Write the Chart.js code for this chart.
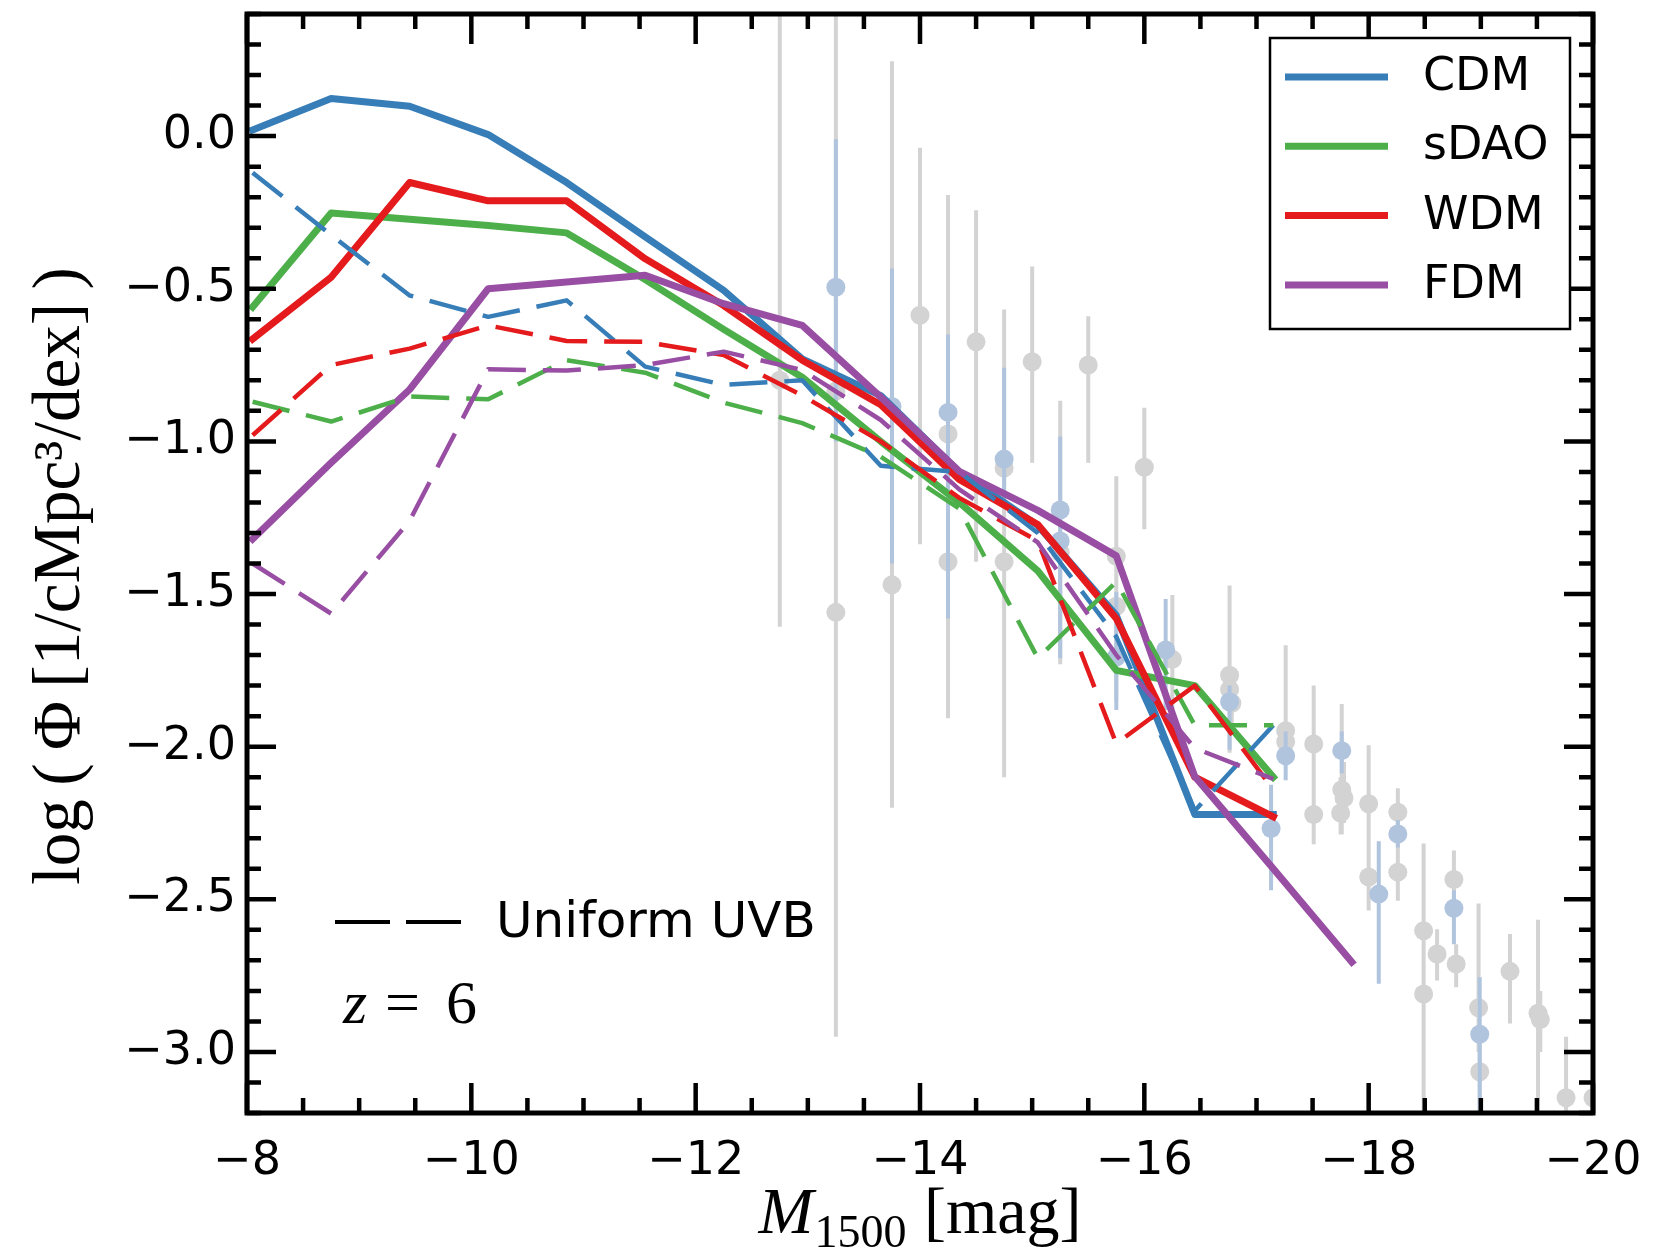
<!DOCTYPE html>
<html>
<head>
<meta charset="utf-8">
<script src="https://cdn.jsdelivr.net/npm/chart.js@4.4.0/dist/chart.umd.min.js"></script>
<style>
  html, body { margin: 0; padding: 0; background: #fff; }
  #wrap { width: 1653px; height: 1254px; }
</style>
</head>
<body>
<div id="wrap"><canvas id="lfChart" width="1653" height="1254"></canvas></div>
<script>
// magnitude bins of the model luminosity functions
const magBins = [-8.05, -8.75, -9.45, -10.15, -10.85, -11.55, -12.25, -12.95, -13.65, -14.35, -15.05, -15.75, -16.45, -17.15, -17.85];

// fiducial runs (solid)
const cdmFid  = [0.02, 0.123, 0.098, 0.005, -0.152, -0.33, -0.505, -0.73, -0.85, -1.10, -1.275, -1.57, -2.222, -2.222];
const sdaoFid = [-0.56, -0.252, -0.272, -0.293, -0.317, -0.47, -0.633, -0.79, -1.0, -1.2, -1.424, -1.75, -1.80, -2.10];
const wdmFid  = [-0.665, -0.462, -0.152, -0.212, -0.212, -0.402, -0.555, -0.734, -0.88, -1.125, -1.272, -1.58, -2.10, -2.23];
const fdmFid  = [-1.32, -1.07, -0.83, -0.50, -0.478, -0.456, -0.549, -0.62, -0.855, -1.098, -1.226, -1.375, -2.098, -2.40, -2.706];

// uniform UVB runs (dashed)
const cdmUvb  = [-0.12, -0.324, -0.522, -0.592, -0.538, -0.755, -0.815, -0.80, -1.08, -1.10, -1.30, -1.64, -2.21, -1.93];
const sdaoUvb = [-0.87, -0.935, -0.853, -0.862, -0.734, -0.775, -0.873, -0.94, -1.05, -1.22, -1.71, -1.46, -1.93, -1.93];
const wdmUvb  = [-0.98, -0.75, -0.696, -0.62, -0.671, -0.674, -0.717, -0.85, -1.0, -1.185, -1.326, -1.99, -1.80, -2.14];
const fdmUvb  = [-1.40, -1.564, -1.26, -0.764, -0.768, -0.75, -0.706, -0.766, -0.93, -1.157, -1.331, -1.70, -2.005, -2.106];

const modelNames  = ['CDM', 'sDAO', 'WDM', 'FDM'];
const modelColors = ['#377eb8', '#4daf4a', '#e41a1c', '#984ea3'];

// observational points, grey
const greyMag = [-12.75, -13.25, -13.25, -13.75, -14.0, -14.25, -14.25, -14.5, -14.75, -14.75, -15.0, -15.25, -15.5, -15.75, -15.75, -16.0, -16.25,
                 -16.76, -16.76, -16.78, -17.26, -17.26, -17.51, -17.51, -17.76, -17.78, -17.75, -18.0, -18.0, -18.26, -18.26,
                 -18.49, -18.49, -18.61, -18.76, -18.78, -18.98, -18.99, -19.26, -19.51, -19.53, -19.76, -20.0];
const greyVal = [-0.80, -0.835, -1.56, -1.47, -0.587, -0.976, -1.394, -0.674, -1.087, -1.394, -0.739, -1.364, -0.75, -1.376, -1.54, -1.085, -1.714,
                 -1.766, -1.813, -1.858, -1.948, -1.984, -1.991, -2.222, -2.141, -2.168, -2.217, -2.187, -2.427, -2.215, -2.411,
                 -2.603, -2.81, -2.679, -2.435, -2.712, -2.855, -3.065, -2.736, -2.873, -2.894, -3.15, -3.15];
const greyLo  = [-1.607, -1.0, -2.95, -2.2, -1.337, -1.45, -1.907, -1.394, -1.6, -2.10, -1.07, -1.73, -1.07, -1.85, -1.85, -1.288, -1.89,
                 -2.02, -1.95, -1.95, -2.0, -2.03, -2.32, -2.32, -2.288, -2.25, -2.288, -2.537, -2.537, -2.3, -2.505,
                 -2.68, -3.4, -2.766, -2.52, -2.788, -3.0, -3.4, -2.907, -3.4, -3.0, -3.4, -3.4];
const greyHi  = [0.6, -0.65, 0.6, 0.245, -0.038, -0.193, -0.95, -0.243, -0.568, -1.0, -0.427, -0.867, -0.59, -1.114, -1.18, -0.89, -1.503,
                 -1.472, -1.65, -1.75, -1.668, -1.90, -1.80, -2.1, -1.86, -2.05, -2.1, -1.995, -2.3, -2.136, -2.3,
                 -2.5, -2.317, -2.598, -2.34, -2.647, -2.514, -2.95, -2.614, -2.567, -2.8, -2.95, -2.95];

// observational points, light blue
const blueMag = [-13.25, -13.75, -14.25, -14.75, -15.25, -15.25, -15.75, -16.19, -16.76, -17.13, -17.26, -17.76, -18.09, -18.26, -18.76, -18.99];
const blueVal = [-0.495, -0.886, -0.905, -1.058, -1.225, -1.326, -1.706, -1.683, -1.853, -2.268, -2.03, -2.013, -2.483, -2.286, -2.529, -2.942];
const blueLo  = [-1.0, -1.40, -1.58, -1.2, -1.71, -1.5, -1.88, -1.88, -2.01, -2.47, -2.11, -2.087, -2.777, -2.33, -2.647, -3.4];
const blueHi  = [-0.01, -0.434, -0.65, -0.759, -0.984, -1.15, -1.494, -1.516, -1.80, -2.125, -1.95, -1.95, -2.31, -2.24, -2.47, -2.755];

// tick labels
const xTickValues = [-8, -10, -12, -14, -16, -18, -20];
const yTickValues = [0.0, -0.5, -1.0, -1.5, -2.0, -2.5, -3.0];

function curve(ys) {
  return ys.map((y, i) => ({x: magBins[i], y: y}));
}
function dots(mags, vals) {
  return mags.map((m, i) => ({x: m, y: vals[i]}));
}
function errorSegments(mags, lo, hi) {
  const out = [];
  mags.forEach((m, i) => {
    out.push({x: m, y: lo[i]}, {x: m, y: hi[i]}, {x: m, y: null});
  });
  return out;
}
function minus(s) {
  return s.replace('-', '\u2212');
}
function noPad(s) {
  s.paddingTop = 0; s.paddingBottom = 0; s.paddingLeft = 0; s.paddingRight = 0;
}

const solidSets = [cdmFid, sdaoFid, wdmFid, fdmFid];
const dashSets  = [cdmUvb, sdaoUvb, wdmUvb, fdmUvb];

const datasets = [
  { type: 'line', data: errorSegments(greyMag, greyLo, greyHi), borderColor: '#d3d3d3', borderWidth: 4,
    pointRadius: 0, spanGaps: false, order: 40, clip: 0 },
  { type: 'scatter', data: dots(greyMag, greyVal), backgroundColor: '#d3d3d3', borderWidth: 0,
    pointRadius: 9.5, order: 39, clip: 0 },
  { type: 'line', data: errorSegments(blueMag, blueLo, blueHi), borderColor: '#b0c4de', borderWidth: 4,
    pointRadius: 0, spanGaps: false, order: 38, clip: 0 },
  { type: 'scatter', data: dots(blueMag, blueVal), backgroundColor: '#b0c4de', borderWidth: 0,
    pointRadius: 9.5, order: 37, clip: 0 }
];

solidSets.forEach((ys, i) => {
  datasets.push({
    type: 'line', label: modelNames[i], data: curve(ys),
    borderColor: modelColors[i], borderWidth: 7, pointRadius: 0,
    borderJoinStyle: 'round', borderCapStyle: 'square', tension: 0,
    order: 33 - i, clip: 0
  });
});
dashSets.forEach((ys, i) => {
  datasets.push({
    type: 'line', label: modelNames[i] + ' uniform UVB', data: curve(ys),
    borderColor: modelColors[i], borderWidth: 4.5, borderDash: [38, 17], pointRadius: 0,
    borderJoinStyle: 'round', tension: 0,
    order: 23 - i, clip: 0
  });
});

// frame with inward ticks on all four sides
const framePlugin = {
  id: 'frame',
  afterDatasetsDraw(chart) {
    const c = chart.ctx;
    const a = chart.chartArea;
    const xs = chart.scales.x, ys = chart.scales.y;
    c.save();
    c.strokeStyle = '#000';
    c.lineCap = 'butt';
    c.lineWidth = 4.5;
    c.beginPath();
    for (let k = 16; k <= 40; k++) {
      const px = xs.getPixelForValue(-k / 2);
      const len = k % 4 === 0 ? 30 : 15;
      c.moveTo(px, a.bottom); c.lineTo(px, a.bottom - len);
      c.moveTo(px, a.top); c.lineTo(px, a.top + len);
    }
    for (let k = -32; k <= 4; k++) {
      const py = ys.getPixelForValue(k / 10);
      const len = k % 5 === 0 ? 29 : 14;
      c.moveTo(a.left, py); c.lineTo(a.left + len, py);
      c.moveTo(a.right, py); c.lineTo(a.right - len, py);
    }
    c.stroke();
    c.lineWidth = 5;
    c.strokeRect(a.left, a.top, a.right - a.left, a.bottom - a.top);
    c.restore();
  }
};

// legend box, top right inside the axes
const legendPlugin = {
  id: 'legendBox',
  afterDatasetsDraw(chart) {
    const c = chart.ctx;
    c.save();
    c.fillStyle = '#fff';
    c.fillRect(1270, 38, 300, 291);
    c.strokeStyle = '#000';
    c.lineWidth = 2.5;
    c.strokeRect(1270, 38, 300, 291);
    modelNames.forEach((name, i) => {
      const yy = 77 + i * 69.3;
      c.strokeStyle = modelColors[i];
      c.lineWidth = 7;
      c.lineCap = 'butt';
      c.beginPath(); c.moveTo(1285, yy); c.lineTo(1388, yy); c.stroke();
      c.fillStyle = '#000';
      c.font = '46px "DejaVu Sans"';
      c.textAlign = 'left';
      c.textBaseline = 'middle';
      c.fillText(name, 1423, yy + 1);
    });
    c.restore();
  }
};

// axis titles and annotations
const textPlugin = {
  id: 'labels',
  afterDraw(chart) {
    const c = chart.ctx;
    c.save();
    c.fillStyle = '#000';

    // y title
    c.save();
    c.translate(79, 576);
    c.rotate(-Math.PI / 2);
    c.font = '67px "Liberation Serif"';
    c.textAlign = 'center';
    c.textBaseline = 'alphabetic';
    c.fillText('log\u2009(\u2009\u03A6\u2009[1/cMpc\u00B3/dex]\u2009)', 0, 0);
    c.restore();

    // x title: M_1500 [mag]
    const big = '66px "Liberation Serif"';
    const sub = '46px "Liberation Serif"';
    c.textAlign = 'left';
    c.textBaseline = 'alphabetic';
    c.font = 'italic ' + big;
    const wM = c.measureText('M').width;
    c.font = sub;
    const wS = c.measureText('1500').width;
    c.font = big;
    const wR = c.measureText(' [mag]').width;
    const x0 = 920 - (wM + wS + 2 + wR) / 2;
    const base = 1233;
    c.font = 'italic ' + big;
    c.fillText('M', x0, base);
    c.font = sub;
    c.fillText('1500', x0 + wM + 1, base + 14);
    c.font = big;
    c.fillText(' [mag]', x0 + wM + wS + 2, base);

    // uniform UVB key
    c.strokeStyle = '#000';
    c.lineWidth = 4;
    c.beginPath();
    c.moveTo(335, 922); c.lineTo(390, 922);
    c.moveTo(406, 922); c.lineTo(461, 922);
    c.stroke();
    c.font = '50px "DejaVu Sans"';
    c.fillText('Uniform UVB', 496, 937);

    // redshift
    c.font = 'italic 62px "Liberation Serif"';
    c.fillText('z', 343, 1023);
    c.font = '62px "Liberation Serif"';
    c.fillText('=', 385, 1023);
    c.fillText('6', 446, 1023);
    c.restore();
  }
};

new Chart(document.getElementById('lfChart'), {
  type: 'line',
  data: { datasets: datasets },
  options: {
    responsive: false,
    animation: false,
    events: [],
    layout: { padding: { left: 0, right: 60, top: 14, bottom: 0 } },
    plugins: { legend: { display: false }, tooltip: { enabled: false } },
    scales: {
      x: {
        type: 'linear', reverse: true, min: -20, max: -8,
        grid: { display: false, drawTicks: false },
        border: { display: false },
        afterBuildTicks: s => { s.ticks = xTickValues.map(v => ({value: v})); },
        afterFit: s => { s.height = 141; noPad(s); },
        ticks: {
          font: { family: 'DejaVu Sans', size: 46 }, color: '#000', padding: 21,
          maxRotation: 0, autoSkip: false,
          callback: v => minus(String(v))
        }
      },
      y: {
        type: 'linear', min: -3.2, max: 0.4,
        grid: { display: false, drawTicks: false },
        border: { display: false },
        afterBuildTicks: s => { s.ticks = yTickValues.map(v => ({value: v})); },
        afterFit: s => { s.width = 247; noPad(s); },
        ticks: {
          font: { family: 'DejaVu Sans', size: 46 }, color: '#000', padding: 11,
          autoSkip: false,
          callback: v => minus(v.toFixed(1))
        }
      }
    }
  },
  plugins: [framePlugin, legendPlugin, textPlugin]
});
</script>
</body>
</html>
